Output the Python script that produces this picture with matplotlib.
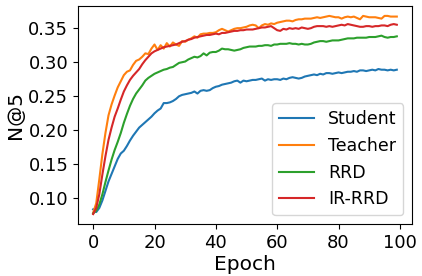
import matplotlib
matplotlib.use("Agg")
import matplotlib.pyplot as plt
import numpy as np

epochs = list(range(100))

student = [0.084, 0.080, 0.086, 0.097, 0.111, 0.125, 0.136, 0.147, 0.158, 0.166,
           0.170, 0.177, 0.185, 0.192, 0.198, 0.204, 0.208, 0.212, 0.216, 0.220,
           0.225, 0.229, 0.232, 0.240, 0.240, 0.241, 0.243, 0.246, 0.250, 0.252,
           0.253, 0.254, 0.255, 0.257, 0.254, 0.258, 0.259, 0.258, 0.259, 0.262,
           0.264, 0.265, 0.267, 0.268, 0.269, 0.270, 0.272, 0.273, 0.270, 0.273,
           0.272, 0.273, 0.274, 0.274, 0.275, 0.276, 0.273, 0.275, 0.274, 0.275,
           0.275, 0.274, 0.276, 0.275, 0.277, 0.278, 0.277, 0.276, 0.277, 0.279,
           0.280, 0.281, 0.282, 0.281, 0.283, 0.282, 0.284, 0.284, 0.283, 0.284,
           0.285, 0.284, 0.285, 0.286, 0.286, 0.287, 0.286, 0.288, 0.288, 0.287,
           0.288, 0.289, 0.288, 0.290, 0.289, 0.289, 0.288, 0.289, 0.288, 0.289]

teacher = [0.079, 0.093, 0.128, 0.165, 0.196, 0.222, 0.238, 0.251, 0.263, 0.272,
           0.281, 0.286, 0.288, 0.296, 0.302, 0.304, 0.308, 0.313, 0.312, 0.320,
           0.326, 0.318, 0.325, 0.320, 0.328, 0.323, 0.329, 0.326, 0.324, 0.331,
           0.330, 0.333, 0.335, 0.338, 0.336, 0.341, 0.342, 0.342, 0.343, 0.343,
           0.344, 0.347, 0.349, 0.347, 0.345, 0.347, 0.349, 0.350, 0.350, 0.351,
           0.352, 0.354, 0.355, 0.354, 0.350, 0.354, 0.356, 0.355, 0.357, 0.356,
           0.358, 0.359, 0.360, 0.361, 0.361, 0.360, 0.362, 0.363, 0.363, 0.364,
           0.364, 0.364, 0.365, 0.366, 0.365, 0.366, 0.367, 0.368, 0.367, 0.366,
           0.366, 0.364, 0.366, 0.367, 0.366, 0.367, 0.365, 0.363, 0.368, 0.367,
           0.366, 0.366, 0.366, 0.365, 0.364, 0.368, 0.368, 0.367, 0.367, 0.367]

rrd = [0.078, 0.082, 0.091, 0.106, 0.124, 0.141, 0.157, 0.171, 0.183, 0.196,
       0.211, 0.224, 0.236, 0.246, 0.254, 0.260, 0.266, 0.273, 0.277, 0.280,
       0.283, 0.285, 0.287, 0.289, 0.290, 0.292, 0.293, 0.296, 0.299, 0.300,
       0.301, 0.304, 0.306, 0.308, 0.307, 0.309, 0.313, 0.310, 0.314, 0.315,
       0.315, 0.317, 0.320, 0.319, 0.319, 0.318, 0.317, 0.318, 0.319, 0.321,
       0.322, 0.323, 0.323, 0.323, 0.324, 0.324, 0.325, 0.325, 0.324, 0.326,
       0.326, 0.327, 0.327, 0.327, 0.328, 0.327, 0.327, 0.326, 0.327, 0.326,
       0.326, 0.327, 0.329, 0.330, 0.331, 0.331, 0.330, 0.331, 0.332, 0.332,
       0.332, 0.333, 0.334, 0.335, 0.335, 0.335, 0.336, 0.336, 0.336, 0.336,
       0.337, 0.337, 0.337, 0.338, 0.339, 0.337, 0.336, 0.337, 0.337, 0.338]

ir_rrd = [0.077, 0.086, 0.106, 0.135, 0.162, 0.186, 0.204, 0.220, 0.232, 0.245,
          0.257, 0.266, 0.274, 0.280, 0.285, 0.290, 0.297, 0.303, 0.308, 0.313,
          0.316, 0.318, 0.320, 0.322, 0.323, 0.324, 0.325, 0.326, 0.328, 0.330,
          0.331, 0.333, 0.334, 0.336, 0.337, 0.338, 0.339, 0.340, 0.340, 0.341,
          0.342, 0.341, 0.343, 0.343, 0.344, 0.345, 0.346, 0.346, 0.347, 0.347,
          0.348, 0.348, 0.348, 0.349, 0.350, 0.351, 0.351, 0.352, 0.353, 0.350,
          0.347, 0.346, 0.349, 0.348, 0.350, 0.349, 0.350, 0.349, 0.351, 0.350,
          0.349, 0.350, 0.352, 0.353, 0.353, 0.353, 0.352, 0.353, 0.352, 0.353,
          0.354, 0.355, 0.354, 0.356, 0.355, 0.354, 0.353, 0.352, 0.352, 0.353,
          0.353, 0.352, 0.353, 0.353, 0.354, 0.354, 0.353, 0.355, 0.356, 0.355]

labels = ["Student", "Teacher", "RRD", "IR-RRD"]
series = [student, teacher, rrd, ir_rrd]

fig = plt.figure(figsize=(4.22, 2.76), dpi=100)
ax = fig.add_axes([0.1848, 0.1884, 0.7915, 0.7899])
for lab, vals in zip(labels, series):
    ax.plot(epochs, vals, label=lab, linewidth=1.5)

ax.set_xlabel("Epoch", fontsize=14.5, labelpad=2)
ax.set_ylabel("N@5", fontsize=14.5, labelpad=2)
ax.tick_params(labelsize=13)
ax.set_yticks([0.10, 0.15, 0.20, 0.25, 0.30, 0.35])
ax.set_xticks([0, 20, 40, 60, 80, 100])
ax.legend(loc="lower right", fontsize=12.5)
fig.savefig("out.png", dpi=100)
